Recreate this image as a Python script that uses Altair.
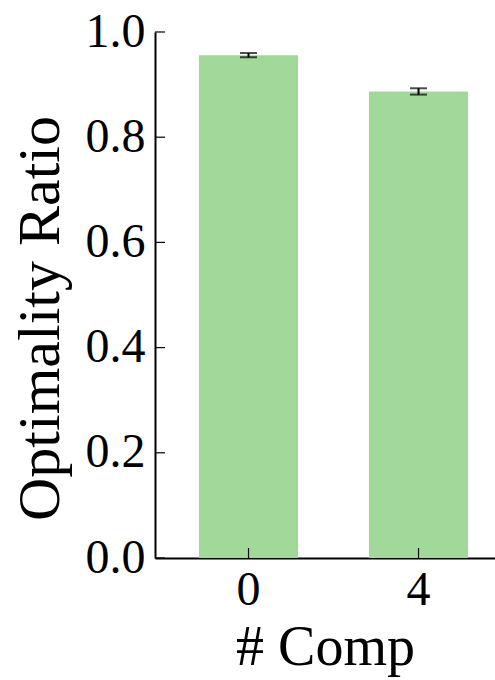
import altair as alt
import pandas as pd

comps = ["0", "4"]
means = [0.956, 0.887]
errs = [0.004, 0.006]
y_ticks = [0.0, 0.2, 0.4, 0.6, 0.8, 1.0]

df = pd.DataFrame({"comp": comps, "mean": means, "err": errs})
df["lo"] = df["mean"] - df["err"]
df["hi"] = df["mean"] + df["err"]
ticks_df = pd.DataFrame({"v": y_ticks})

FONT = "Liberation Serif"
W, H = 340, 526

xscale = alt.Scale(domain=comps, paddingInner=0.4176, paddingOuter=0.2088, align=0.62)
yscale = alt.Scale(domain=[0, 1], nice=False)

xenc = alt.X("comp:N", scale=xscale, sort=comps,
             axis=alt.Axis(title="# Comp", labelAngle=0, ticks=False, labelPadding=8,
                           titlePadding=6, titleFontSize=56))
yenc = alt.Y("mean:Q", scale=yscale,
             axis=alt.Axis(title="Optimality Ratio", values=y_ticks, format=".1f",
                           ticks=False, labelPadding=10, titlePadding=14, grid=False,
                           titleFontSize=60, titleY=286))

bars = alt.Chart(df).mark_bar(color="#a1d99b").encode(x=xenc, y=yenc)

err_rule = alt.Chart(df).mark_rule(color="black", strokeWidth=2).encode(
    x=alt.X("comp:N", scale=xscale, sort=comps),
    y=alt.Y("lo:Q", scale=yscale),
    y2="hi:Q",
)
err_caps_lo = alt.Chart(df).mark_tick(color="black", size=17, thickness=2).encode(
    x=alt.X("comp:N", scale=xscale, sort=comps),
    y=alt.Y("lo:Q", scale=yscale),
)
err_caps_hi = alt.Chart(df).mark_tick(color="black", size=17, thickness=2).encode(
    x=alt.X("comp:N", scale=xscale, sort=comps),
    y=alt.Y("hi:Q", scale=yscale),
)

xticks = alt.Chart(df).mark_rule(color="black", strokeWidth=1.2).encode(
    x=alt.X("comp:N", scale=xscale, sort=comps),
    y=alt.value(H),
    y2=alt.value(H - 10),
)
yticks = alt.Chart(ticks_df).mark_rule(color="black", strokeWidth=1.2).encode(
    y=alt.Y("v:Q", scale=yscale),
    x=alt.value(0),
    x2=alt.value(10),
)

chart = alt.layer(bars, err_rule, err_caps_lo, err_caps_hi, xticks, yticks).properties(
    width=W, height=H,
    autosize=alt.AutoSizeParams(type="none"),
    padding={"left": 155, "top": 32, "right": 0, "bottom": 122},
).configure_view(stroke=None).configure_axis(
    labelFont=FONT, titleFont=FONT, labelFontSize=48, titleFontSize=60,
    labelColor="black", titleColor="black", titleFontWeight="normal",
    domainColor="black", domainWidth=2,
)

chart.save("out.html", embed_options={"renderer": "svg", "actions": False})
